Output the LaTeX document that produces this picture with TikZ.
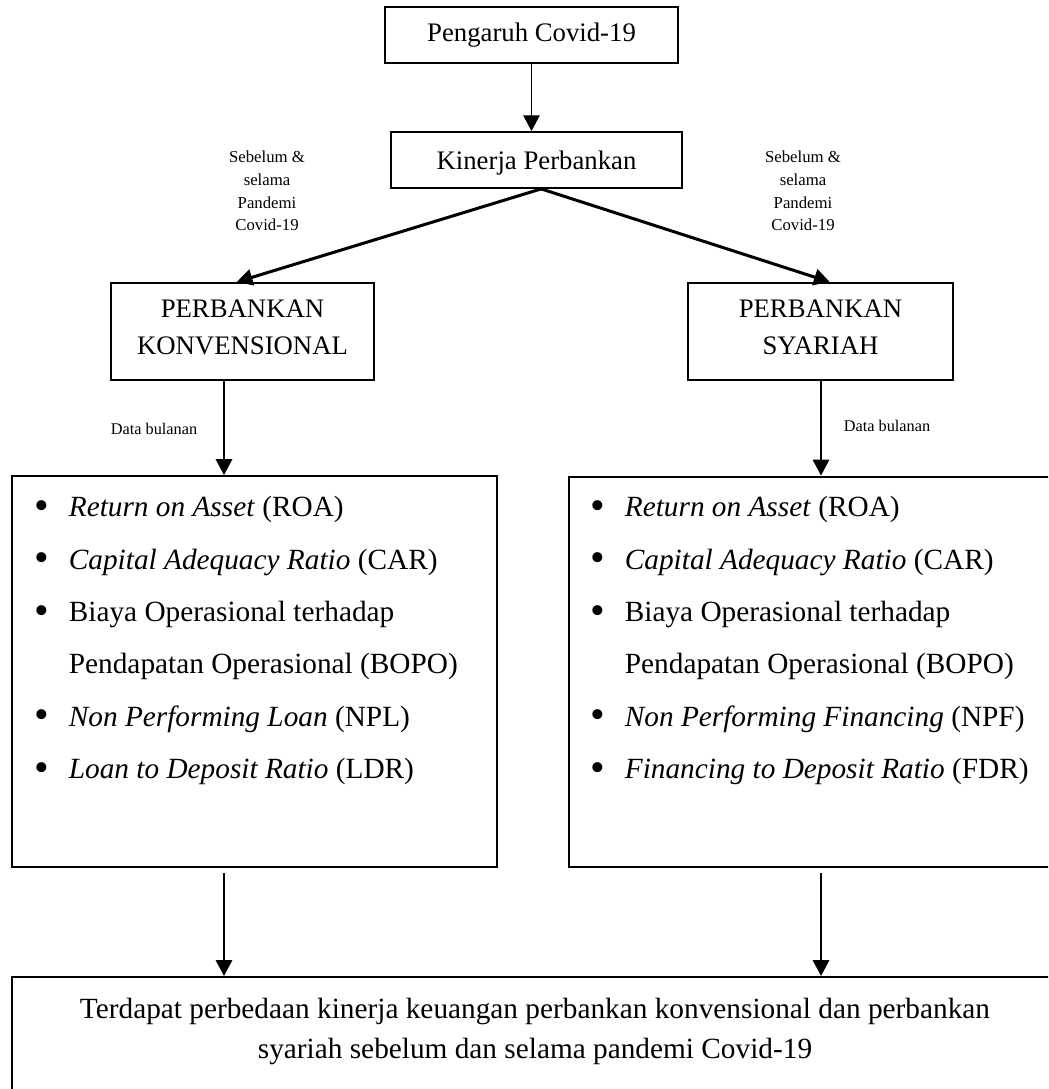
\documentclass[tikz,border=0pt]{standalone}
\usepackage{fontspec}
\setmainfont{Liberation Serif}
\usepackage{tikz}
\usetikzlibrary{positioning, arrows.meta}

\newcommand{\butir}{\makebox[14.8pt][l]{\raisebox{-1.2pt}{\fontsize{18}{18}\selectfont\textbullet}}}
\newcommand{\lanjut}{\hspace*{14.8pt}}

\begin{document}
\begin{tikzpicture}[x=0.43pt, y=-0.43pt,
        box/.style={draw, line width=0.85pt, align=center, inner sep=0pt,
            font=\fontsize{11.5}{16}\selectfont},
        items/.style={align=left, inner sep=0pt, anchor=north west,
            font=\fontsize{12.6}{22.5}\selectfont},
        note/.style={align=center, inner sep=0pt, font=\fontsize{7.2}{9.8}\selectfont},
        arr/.style={line width=0.85pt, -{Triangle[length=6.8pt,width=7pt]}}]
                \useasboundingbox (0,0) rectangle (1048,1089);
                \clip (0,0) rectangle (1048,1089);

                \node [box, minimum width=126pt, minimum height=24pt] (covid) at (531.5,35) {Pengaruh Covid-19};
                \node [box, minimum width=125pt, minimum height=24pt] (kinerja) at (536.5,160) {\rule{0pt}{11pt}Kinerja Perbankan};
                \node [box, minimum width=113pt, minimum height=41.7pt] (konv) at (242.5,331.5) {PERBANKAN\\KONVENSIONAL\rule[-4pt]{0pt}{0pt}};
                \node [box, minimum width=114pt, minimum height=41.7pt] (syariah) at (820.5,331.5) {PERBANKAN\\SYARIAH\rule[-4pt]{0pt}{0pt}};

                \node [note] (sebelumK) at (267,191) {Sebelum \&\\selama\\Pandemi\\Covid-19};
                \node [note] (sebelumS) at (803,191) {Sebelum \&\\selama\\Pandemi\\Covid-19};

                \node [box, minimum width=208.6pt, minimum height=168.1pt] (listK) at (254.5,671.5) {};
                \node [box, minimum width=210.3pt, minimum height=168.1pt] (listS) at (813.5,672) {};
                \node [items] (itemsK) at (34,496) {\butir\textit{Return on Asset} (ROA)\\
                    \butir\textit{Capital Adequacy Ratio} (CAR)\\
                    \butir Biaya Operasional terhadap\\
                    \lanjut Pendapatan Operasional (BOPO)\\
                    \butir\textit{Non Performing Loan} (NPL)\\
                    \butir\textit{Loan to Deposit Ratio} (LDR)};
                \node [items] (itemsS) at (590,496) {\butir\textit{Return on Asset} (ROA)\\
                    \butir\textit{Capital Adequacy Ratio} (CAR)\\
                    \butir Biaya Operasional terhadap\\
                    \lanjut Pendapatan Operasional (BOPO)\\
                    \butir\textit{Non Performing Financing} (NPF)\\
                    \butir\textit{Financing to Deposit Ratio} (FDR)};

                \node [note, font=\fontsize{7}{9.8}\selectfont] (dataK) at (154,429) {Data bulanan};
                \node [note, font=\fontsize{7}{9.8}\selectfont] (dataS) at (887,426) {Data bulanan};

                \node [box, minimum width=449.8pt, minimum height=57.6pt, anchor=north] (result) at (535,976) {};
                \node [align=center, inner sep=0pt, font=\fontsize{12.6}{17.2}\selectfont] (resultText) at (535,1031)
                    {Terdapat perbedaan kinerja keuangan perbankan konvensional dan perbankan\\syariah sebelum dan selama pandemi Covid-19};

                \coordinate (kcol) at (224,0);
                \coordinate (scol) at (821,0);

                \draw[arr] (covid.south) -- (covid.south |- kinerja.north);
                \draw[arr, line width=1.3pt] ([xshift=2pt]kinerja.south) -- ([xshift=-2.5pt]konv.north);
                \draw[arr, line width=1.3pt] ([xshift=2pt]kinerja.south) -- ([xshift=4pt]syariah.north);
                \draw[arr] (kcol |- konv.south) -- (kcol |- listK.north);
                \draw[arr] (scol |- syariah.south) -- (scol |- listS.north);
                \draw[arr] ([yshift=-2pt]kcol |- listK.south) -- (kcol |- result.north);
                \draw[arr] ([yshift=-2pt]scol |- listS.south) -- (scol |- result.north);
            \end{tikzpicture}
\end{document}
